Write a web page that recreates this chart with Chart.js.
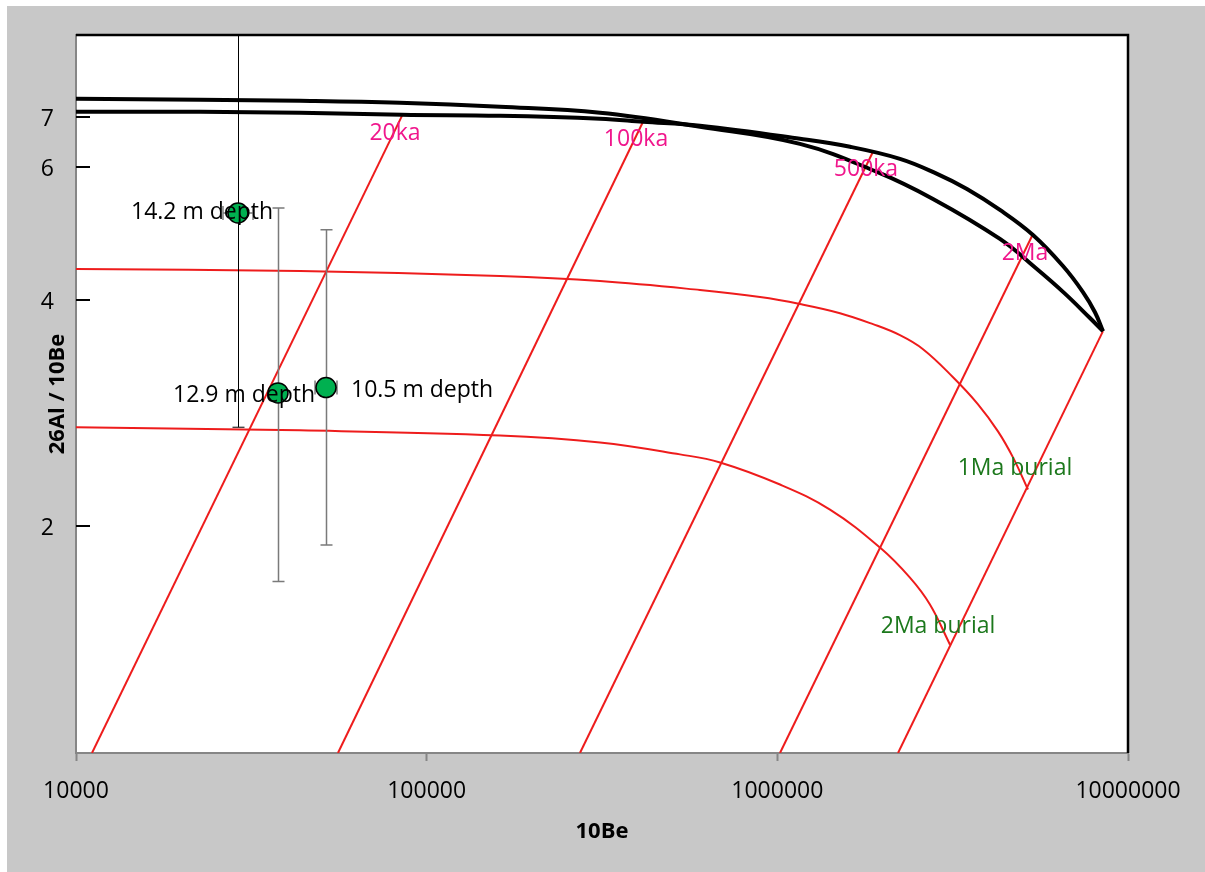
<!DOCTYPE html>
<html>
<head>
<meta charset="utf-8">
<script src="https://cdn.jsdelivr.net/npm/chart.js@4.4.1/dist/chart.umd.min.js"></script>
<style>
  html, body { margin: 0; padding: 0; background: #ffffff; }
  #frame { position: absolute; left: 7px; top: 6px; width: 1198px; height: 866px; background: #c8c8c8; }
  canvas { display: block; }
</style>
</head>
<body>
<div id="frame"><canvas id="chart" width="1198" height="866"></canvas></div>
<script>
// Samples: 10Be concentration and 26Al/10Be ratio with uncertainties
const sampleNames = ['14.2 m depth', '12.9 m depth', '10.5 m depth'];
const sampleBe = [28970, 37670, 51640];
const sampleRatio = [5.22, 3.01, 3.06];
const sampleRatioLow = [2.71, 1.69, 1.89];
const sampleRatioHigh = [10.0, 5.30, 4.96];
const sampleBeLow = [26250, 37670, 48050];
const sampleBeHigh = [31980, 37670, 55500];

// Constant exposure (no erosion) curve
const exposureBe = [10000, 22580, 43530, 85030, 161900, 312100, 414000, 601700, 1160000, 1612000, 2237000, 2815000, 3473000, 4313000, 5358000, 6525000, 7439000, 8050000, 8486000];
const exposureRatio = [7.115, 7.115, 7.094, 7.051, 7.028, 6.965, 6.901, 6.817, 6.551, 6.392, 6.161, 5.902, 5.618, 5.269, 4.880, 4.438, 4.098, 3.853, 3.636];

// Steady-state erosion curve
const erosionBe = [10000, 22580, 43530, 83900, 161900, 312100, 601700, 1160000, 1924000, 2779000, 4313000, 5434000, 6586000, 7790000, 8486000];
const erosionRatio = [7.405, 7.383, 7.360, 7.315, 7.226, 7.094, 6.796, 6.450, 5.920, 5.450, 4.822, 4.418, 4.085, 3.785, 3.636];

// Burial isochrons
const burial1MaBe = [10000, 43530, 161900, 312100, 601700, 892400, 1160000, 1509000, 1874000, 2237000, 2603000, 3170000, 3735000, 4258000, 4699000, 5185000];
const burial1MaRatio = [4.397, 4.371, 4.304, 4.239, 4.124, 4.036, 3.951, 3.842, 3.715, 3.592, 3.441, 3.158, 2.907, 2.676, 2.471, 2.240];
const burial2MaBe = [10000, 43530, 161900, 312100, 527800, 686400, 1017600, 1413000, 1962000, 2389000, 2724000, 3108000];
const burial2MaRatio = [2.709, 2.684, 2.643, 2.587, 2.494, 2.433, 2.274, 2.106, 1.875, 1.710, 1.575, 1.393];
const burialLabels = ['1Ma burial', '2Ma burial'];

// Burial paths starting from exposure ages
const pathLabels = ['20ka', '100ka', '500ka', '2Ma', ''];
const pathStartBe = [85030, 414000, 1874000, 5324000, 8486000];
const pathStartRatio = [7.028, 6.901, 6.295, 4.866, 3.636];
const pathEndBe = [11107, 55850, 273600, 1017600, 2209000];
const pathEndRatio = [1, 1, 1, 1, 1];

// Axis ticks
const xTicks = [10000, 100000, 1000000, 10000000];
const yTicks = [2, 4, 6, 7];

const FONT = "'Open Sans', 'DejaVu Sans', sans-serif";
const RED = '#ee1c1c';
const PINK = '#f0168c';
const GREEN = '#1c781c';

const pts = (xs, ys) => xs.map((x, i) => ({ x: x, y: ys[i] }));

const datasets = [
  {
    label: 'samples',
    data: pts(sampleBe, sampleRatio),
    showLine: false,
    pointRadius: 10,
    pointHoverRadius: 10,
    pointBackgroundColor: '#00b050',
    pointBorderColor: '#000000',
    pointBorderWidth: 1.5,
    order: 0
  },
  {
    label: 'exposure',
    data: pts(exposureBe, exposureRatio),
    showLine: true, borderColor: '#000000', borderWidth: 4,
    pointRadius: 0, tension: 0.4, order: 1
  },
  {
    label: 'erosion',
    data: pts(erosionBe, erosionRatio),
    showLine: true, borderColor: '#000000', borderWidth: 4,
    pointRadius: 0, tension: 0.4, order: 1
  },
  {
    label: 'burial 1Ma',
    data: pts(burial1MaBe, burial1MaRatio),
    showLine: true, borderColor: RED, borderWidth: 2,
    pointRadius: 0, tension: 0.4, order: 2
  },
  {
    label: 'burial 2Ma',
    data: pts(burial2MaBe, burial2MaRatio),
    showLine: true, borderColor: RED, borderWidth: 2,
    pointRadius: 0, tension: 0.4, order: 2
  }
];
pathStartBe.forEach((be, i) => {
  datasets.push({
    label: 'path ' + i,
    data: [{ x: be, y: pathStartRatio[i] }, { x: pathEndBe[i], y: pathEndRatio[i] }],
    showLine: true, borderColor: RED, borderWidth: 2, pointRadius: 0, order: 2
  });
});

// White plot area, black top/right frame and inward y ticks
const plotFrame = {
  id: 'plotFrame',
  beforeDraw(chart) {
    const { ctx, chartArea: a } = chart;
    ctx.save();
    ctx.fillStyle = '#ffffff';
    ctx.fillRect(a.left, a.top, a.right - a.left, a.bottom - a.top);
    ctx.restore();
  },
  afterDatasetsDraw(chart) {
    const { ctx, chartArea: a, scales } = chart;
    ctx.save();
    ctx.strokeStyle = '#000000';
    ctx.lineWidth = 2.5;
    ctx.beginPath();
    ctx.moveTo(a.left, a.top);
    ctx.lineTo(a.right, a.top);
    ctx.lineTo(a.right, a.bottom);
    ctx.stroke();
    ctx.lineWidth = 2;
    scales.y.ticks.forEach(t => {
      const py = Math.round(scales.y.getPixelForValue(t.value));
      ctx.beginPath();
      ctx.moveTo(a.left, py);
      ctx.lineTo(a.left + 14, py);
      ctx.stroke();
    });
    ctx.restore();
  }
};

// Error bars beneath the sample markers
const errorBars = {
  id: 'errorBars',
  beforeDatasetDraw(chart, args) {
    if (args.index !== 0) return;
    const { ctx, chartArea: a, scales: { x, y } } = chart;
    ctx.save();
    ctx.beginPath();
    ctx.rect(a.left, a.top, a.right - a.left, a.bottom - a.top);
    ctx.clip();
    sampleBe.forEach((be, i) => {
      const px = Math.round(x.getPixelForValue(be)) + 0.5;
      const py = y.getPixelForValue(sampleRatio[i]);
      const lo = y.getPixelForValue(sampleRatioLow[i]);
      const hi = y.getPixelForValue(sampleRatioHigh[i]);
      ctx.strokeStyle = i === 0 ? '#000000' : '#7a7a7a';
      ctx.lineWidth = i === 0 ? 1 : 1.5;
      ctx.beginPath();
      ctx.moveTo(px, hi); ctx.lineTo(px, lo);
      ctx.moveTo(px - 6, hi); ctx.lineTo(px + 6, hi);
      ctx.moveTo(px - 6, lo); ctx.lineTo(px + 6, lo);
      ctx.stroke();
      if (sampleBeLow[i] !== sampleBeHigh[i]) {
        const l = x.getPixelForValue(sampleBeLow[i]);
        const r = x.getPixelForValue(sampleBeHigh[i]);
        ctx.strokeStyle = '#7a7a7a';
        ctx.lineWidth = 1.5;
        ctx.beginPath();
        ctx.moveTo(l, py); ctx.lineTo(r, py);
        ctx.moveTo(l, py - 7); ctx.lineTo(l, py + 7);
        ctx.moveTo(r, py - 7); ctx.lineTo(r, py + 7);
        ctx.stroke();
      }
    });
    ctx.restore();
  }
};

// Text annotations for samples, exposure ages and burial isochrons
const annotations = {
  id: 'annotations',
  afterDatasetsDraw(chart) {
    const { ctx, scales: { x, y } } = chart;
    ctx.save();
    ctx.font = '23px ' + FONT;
    ctx.textBaseline = 'middle';

    const sampleOffsets = [[-107, -1], [-105, 3], [25, 3]];
    ctx.fillStyle = '#000000';
    ctx.textAlign = 'left';
    sampleNames.forEach((name, i) => {
      const px = x.getPixelForValue(sampleBe[i]);
      const py = y.getPixelForValue(sampleRatio[i]);
      ctx.fillText(name, px + sampleOffsets[i][0], py + sampleOffsets[i][1]);
    });

    ctx.fillStyle = PINK;
    ctx.textAlign = 'center';
    pathLabels.forEach((name, i) => {
      if (!name) return;
      const px = x.getPixelForValue(pathStartBe[i]);
      const py = y.getPixelForValue(pathStartRatio[i]);
      ctx.fillText(name, px - 7, py + 18);
    });

    ctx.fillStyle = GREEN;
    const ends = [
      [burial1MaBe[burial1MaBe.length - 1], burial1MaRatio[burial1MaRatio.length - 1], -13, -21],
      [burial2MaBe[burial2MaBe.length - 1], burial2MaRatio[burial2MaRatio.length - 1], -12, -18]
    ];
    burialLabels.forEach((name, i) => {
      const px = x.getPixelForValue(ends[i][0]);
      const py = y.getPixelForValue(ends[i][1]);
      ctx.fillText(name, px + ends[i][2], py + ends[i][3]);
    });
    ctx.restore();
  }
};

new Chart(document.getElementById('chart'), {
  type: 'scatter',
  data: { datasets: datasets },
  options: {
    responsive: false,
    animation: false,
    devicePixelRatio: 1,
    layout: { padding: { left: 0, top: 29, right: 77, bottom: 0 } },
    plugins: { legend: { display: false }, tooltip: { enabled: false } },
    font: { family: FONT },
    scales: {
      x: {
        type: 'logarithmic',
        min: 10000,
        max: 10000000,
        afterBuildTicks(scale) { scale.ticks = xTicks.map(v => ({ value: v })); },
        afterFit(scale) { scale.height = 119; scale.paddingLeft = 0; scale.paddingRight = 0; },
        ticks: {
          autoSkip: false, maxRotation: 0, padding: 17,
          color: '#000000', font: { family: FONT, size: 23 },
          callback: v => String(v)
        },
        grid: { drawOnChartArea: false, drawTicks: true, tickLength: 8, color: '#868686', tickWidth: 2 },
        border: { display: true, color: '#868686', width: 2 },
        title: {
          display: true, text: '10Be', color: '#000000',
          font: { family: FONT, size: 22, weight: 'bold', lineHeight: 1.2 },
          padding: { top: 0, bottom: 27 }
        }
      },
      y: {
        type: 'logarithmic',
        min: 1,
        max: 9,
        afterBuildTicks(scale) { scale.ticks = yTicks.map(v => ({ value: v })); },
        afterFit(scale) { scale.width = 69; scale.paddingTop = 0; scale.paddingBottom = 0; },
        ticks: {
          autoSkip: false, padding: 22, labelOffset: 2,
          color: '#000000', font: { family: FONT, size: 23 },
          callback: v => String(v)
        },
        grid: { drawOnChartArea: false, drawTicks: false },
        border: { display: true, color: '#868686', width: 2 },
        title: {
          display: true, text: '26Al / 10Be', color: '#000000',
          font: { family: FONT, size: 22, weight: 'bold', lineHeight: 1.2 },
          padding: { top: 38, bottom: 0 }
        }
      }
    }
  },
  plugins: [plotFrame, errorBars, annotations]
});
</script>
</body>
</html>
